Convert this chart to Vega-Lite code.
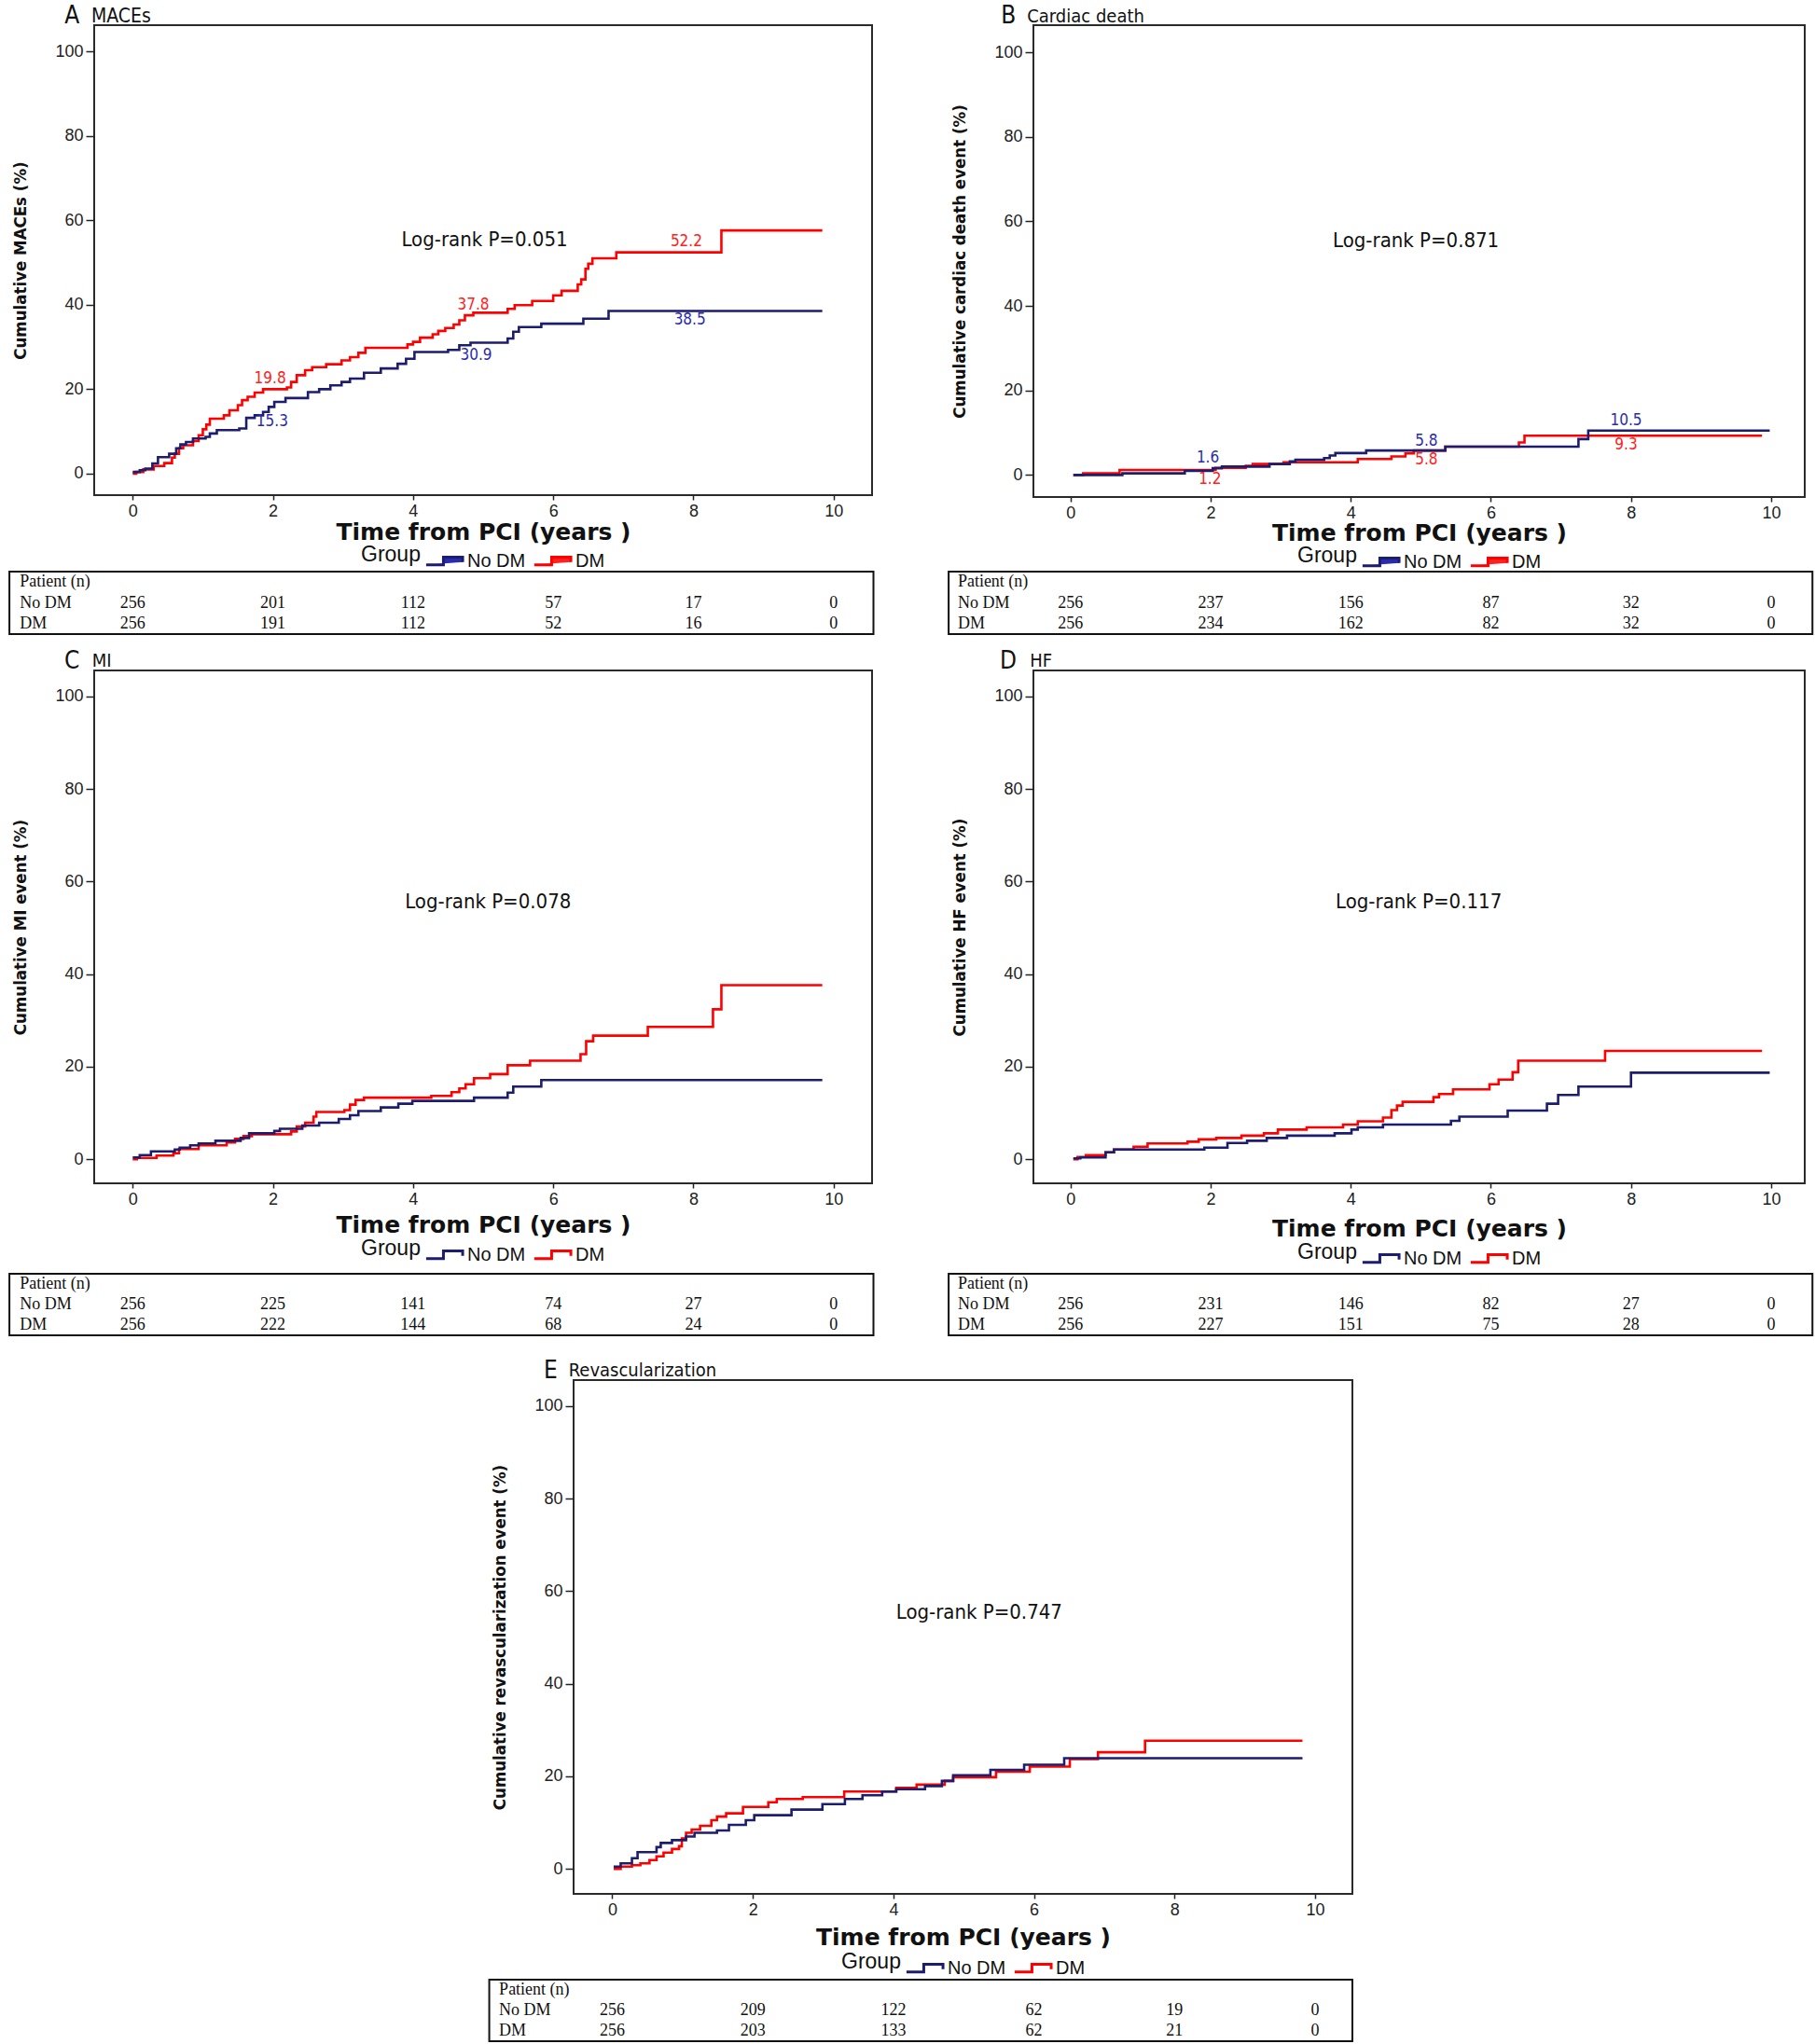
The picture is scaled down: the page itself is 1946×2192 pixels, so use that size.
{
 "$schema": "https://vega.github.io/schema/vega-lite/v6.json",
 "background": "white",
 "padding": {"left": 9, "top": 2, "right": 0, "bottom": 0},
 "datasets": {
  "rows": [{"row": "Patient (n)"}, {"row": "No DM"}, {"row": "DM"}],
  "kmA": [
   {"t":0,"p":0,"g":"DM"},{"t":0.05,"p":0.4,"g":"DM"},{"t":0.15,"p":1.0,"g":"DM"},{"t":0.3,"p":1.8,"g":"DM"},{"t":0.45,"p":2.5,"g":"DM"},{"t":0.56,"p":3.8,"g":"DM"},{"t":0.6,"p":4.7,"g":"DM"},{"t":0.66,"p":6.0,"g":"DM"},{"t":0.72,"p":6.7,"g":"DM"},{"t":0.86,"p":7.7,"g":"DM"},{"t":0.94,"p":9.1,"g":"DM"},{"t":1.0,"p":10.5,"g":"DM"},{"t":1.05,"p":11.6,"g":"DM"},{"t":1.1,"p":13.0,"g":"DM"},{"t":1.3,"p":13.8,"g":"DM"},{"t":1.38,"p":15.0,"g":"DM"},{"t":1.5,"p":16.2,"g":"DM"},{"t":1.56,"p":17.4,"g":"DM"},{"t":1.64,"p":18.2,"g":"DM"},{"t":1.74,"p":19.2,"g":"DM"},{"t":1.86,"p":20.0,"g":"DM"},{"t":2.2,"p":20.4,"g":"DM"},{"t":2.26,"p":21.7,"g":"DM"},{"t":2.34,"p":23.3,"g":"DM"},{"t":2.46,"p":24.5,"g":"DM"},{"t":2.56,"p":25.2,"g":"DM"},{"t":2.76,"p":25.9,"g":"DM"},{"t":2.98,"p":26.8,"g":"DM"},{"t":3.1,"p":27.6,"g":"DM"},{"t":3.22,"p":28.6,"g":"DM"},{"t":3.32,"p":29.8,"g":"DM"},{"t":3.92,"p":30.6,"g":"DM"},{"t":4.0,"p":31.2,"g":"DM"},{"t":4.1,"p":32.2,"g":"DM"},{"t":4.28,"p":33.0,"g":"DM"},{"t":4.36,"p":33.8,"g":"DM"},{"t":4.46,"p":34.5,"g":"DM"},{"t":4.58,"p":35.3,"g":"DM"},{"t":4.66,"p":36.3,"g":"DM"},{"t":4.74,"p":37.5,"g":"DM"},{"t":4.86,"p":38.1,"g":"DM"},{"t":5.35,"p":39.0,"g":"DM"},{"t":5.45,"p":39.9,"g":"DM"},{"t":5.7,"p":40.9,"g":"DM"},{"t":6.0,"p":42.2,"g":"DM"},{"t":6.12,"p":43.3,"g":"DM"},{"t":6.35,"p":44.8,"g":"DM"},{"t":6.4,"p":46.0,"g":"DM"},{"t":6.46,"p":48.5,"g":"DM"},{"t":6.5,"p":49.7,"g":"DM"},{"t":6.56,"p":51.0,"g":"DM"},{"t":6.9,"p":52.4,"g":"DM"},{"t":8.4,"p":57.6,"g":"DM"},{"t":9.84,"p":57.6,"g":"DM"},
   {"t":0,"p":0.4,"g":"No DM"},{"t":0.1,"p":0.8,"g":"No DM"},{"t":0.18,"p":1.2,"g":"No DM"},{"t":0.28,"p":2.4,"g":"No DM"},{"t":0.36,"p":3.9,"g":"No DM"},{"t":0.52,"p":4.7,"g":"No DM"},{"t":0.62,"p":6.0,"g":"No DM"},{"t":0.68,"p":6.9,"g":"No DM"},{"t":0.76,"p":7.5,"g":"No DM"},{"t":0.86,"p":8.3,"g":"No DM"},{"t":1.04,"p":8.7,"g":"No DM"},{"t":1.1,"p":9.5,"g":"No DM"},{"t":1.2,"p":10.3,"g":"No DM"},{"t":1.52,"p":10.7,"g":"No DM"},{"t":1.62,"p":13.2,"g":"No DM"},{"t":1.74,"p":13.8,"g":"No DM"},{"t":1.86,"p":14.6,"g":"No DM"},{"t":1.94,"p":15.8,"g":"No DM"},{"t":2.02,"p":17.0,"g":"No DM"},{"t":2.18,"p":17.9,"g":"No DM"},{"t":2.5,"p":19.3,"g":"No DM"},{"t":2.66,"p":20.0,"g":"No DM"},{"t":2.82,"p":20.9,"g":"No DM"},{"t":2.98,"p":21.7,"g":"No DM"},{"t":3.1,"p":22.5,"g":"No DM"},{"t":3.3,"p":23.9,"g":"No DM"},{"t":3.54,"p":24.9,"g":"No DM"},{"t":3.78,"p":26.0,"g":"No DM"},{"t":3.9,"p":27.2,"g":"No DM"},{"t":4.02,"p":28.8,"g":"No DM"},{"t":4.5,"p":29.3,"g":"No DM"},{"t":4.66,"p":30.4,"g":"No DM"},{"t":4.82,"p":31.0,"g":"No DM"},{"t":5.35,"p":32.0,"g":"No DM"},{"t":5.43,"p":33.6,"g":"No DM"},{"t":5.51,"p":34.7,"g":"No DM"},{"t":5.83,"p":35.5,"g":"No DM"},{"t":6.43,"p":36.7,"g":"No DM"},{"t":6.79,"p":38.5,"g":"No DM"},{"t":9.84,"p":38.5,"g":"No DM"}
  ],
  "kmB": [
   {"t":0.04,"p":0,"g":"DM"},{"t":0.18,"p":0.4,"g":"DM"},{"t":0.7,"p":1.2,"g":"DM"},{"t":2.07,"p":1.7,"g":"DM"},{"t":2.5,"p":2.2,"g":"DM"},{"t":2.6,"p":2.6,"g":"DM"},{"t":3.04,"p":3.0,"g":"DM"},{"t":4.1,"p":3.8,"g":"DM"},{"t":4.58,"p":4.4,"g":"DM"},{"t":4.78,"p":5.1,"g":"DM"},{"t":4.9,"p":5.8,"g":"DM"},{"t":5.35,"p":6.7,"g":"DM"},{"t":6.4,"p":7.7,"g":"DM"},{"t":6.48,"p":9.3,"g":"DM"},{"t":9.87,"p":9.3,"g":"DM"},
   {"t":0.04,"p":0,"g":"No DM"},{"t":0.74,"p":0.4,"g":"No DM"},{"t":1.63,"p":1.0,"g":"No DM"},{"t":2.03,"p":1.6,"g":"No DM"},{"t":2.16,"p":2.0,"g":"No DM"},{"t":2.84,"p":2.6,"g":"No DM"},{"t":3.13,"p":3.2,"g":"No DM"},{"t":3.21,"p":3.6,"g":"No DM"},{"t":3.62,"p":4.0,"g":"No DM"},{"t":3.7,"p":4.6,"g":"No DM"},{"t":3.78,"p":5.2,"g":"No DM"},{"t":4.22,"p":5.8,"g":"No DM"},{"t":5.35,"p":6.7,"g":"No DM"},{"t":7.25,"p":8.5,"g":"No DM"},{"t":7.39,"p":10.5,"g":"No DM"},{"t":9.98,"p":10.5,"g":"No DM"}
  ],
  "kmC": [
   {"t":0,"p":0,"g":"DM"},{"t":0.06,"p":0.3,"g":"DM"},{"t":0.34,"p":0.8,"g":"DM"},{"t":0.58,"p":1.3,"g":"DM"},{"t":0.66,"p":2.2,"g":"DM"},{"t":0.94,"p":3.0,"g":"DM"},{"t":1.34,"p":3.6,"g":"DM"},{"t":1.46,"p":4.4,"g":"DM"},{"t":1.58,"p":5.0,"g":"DM"},{"t":1.7,"p":5.4,"g":"DM"},{"t":2.26,"p":6.0,"g":"DM"},{"t":2.34,"p":7.1,"g":"DM"},{"t":2.46,"p":7.9,"g":"DM"},{"t":2.58,"p":9.2,"g":"DM"},{"t":2.62,"p":10.2,"g":"DM"},{"t":3.02,"p":10.6,"g":"DM"},{"t":3.1,"p":11.8,"g":"DM"},{"t":3.18,"p":12.8,"g":"DM"},{"t":3.3,"p":13.3,"g":"DM"},{"t":4.26,"p":13.7,"g":"DM"},{"t":4.55,"p":14.5,"g":"DM"},{"t":4.66,"p":15.3,"g":"DM"},{"t":4.75,"p":16.2,"g":"DM"},{"t":4.87,"p":17.5,"g":"DM"},{"t":5.1,"p":18.4,"g":"DM"},{"t":5.35,"p":20.3,"g":"DM"},{"t":5.67,"p":21.3,"g":"DM"},{"t":6.39,"p":22.7,"g":"DM"},{"t":6.47,"p":25.5,"g":"DM"},{"t":6.57,"p":26.7,"g":"DM"},{"t":7.35,"p":28.6,"g":"DM"},{"t":8.28,"p":32.4,"g":"DM"},{"t":8.4,"p":37.6,"g":"DM"},{"t":9.84,"p":37.6,"g":"DM"},
   {"t":0,"p":0.4,"g":"No DM"},{"t":0.1,"p":0.9,"g":"No DM"},{"t":0.26,"p":1.7,"g":"No DM"},{"t":0.6,"p":2.1,"g":"No DM"},{"t":0.67,"p":2.5,"g":"No DM"},{"t":0.82,"p":3.0,"g":"No DM"},{"t":0.94,"p":3.4,"g":"No DM"},{"t":1.18,"p":4.0,"g":"No DM"},{"t":1.54,"p":4.6,"g":"No DM"},{"t":1.66,"p":5.6,"g":"No DM"},{"t":2.02,"p":6.1,"g":"No DM"},{"t":2.1,"p":6.6,"g":"No DM"},{"t":2.42,"p":7.3,"g":"No DM"},{"t":2.66,"p":7.9,"g":"No DM"},{"t":2.94,"p":8.7,"g":"No DM"},{"t":3.1,"p":9.5,"g":"No DM"},{"t":3.22,"p":10.4,"g":"No DM"},{"t":3.54,"p":11.2,"g":"No DM"},{"t":3.79,"p":12.0,"g":"No DM"},{"t":3.99,"p":12.6,"g":"No DM"},{"t":4.87,"p":13.3,"g":"No DM"},{"t":5.35,"p":14.4,"g":"No DM"},{"t":5.43,"p":15.7,"g":"No DM"},{"t":5.83,"p":17.1,"g":"No DM"},{"t":9.84,"p":17.1,"g":"No DM"}
  ],
  "kmD": [
   {"t":0.04,"p":0,"g":"DM"},{"t":0.1,"p":0.5,"g":"DM"},{"t":0.22,"p":0.9,"g":"DM"},{"t":0.5,"p":1.5,"g":"DM"},{"t":0.62,"p":2.1,"g":"DM"},{"t":0.9,"p":2.7,"g":"DM"},{"t":1.1,"p":3.4,"g":"DM"},{"t":1.67,"p":3.8,"g":"DM"},{"t":1.83,"p":4.3,"g":"DM"},{"t":2.08,"p":4.6,"g":"DM"},{"t":2.44,"p":5.1,"g":"DM"},{"t":2.76,"p":5.6,"g":"DM"},{"t":2.96,"p":6.4,"g":"DM"},{"t":3.37,"p":6.9,"g":"DM"},{"t":3.89,"p":7.5,"g":"DM"},{"t":4.1,"p":8.2,"g":"DM"},{"t":4.46,"p":9.0,"g":"DM"},{"t":4.58,"p":10.6,"g":"DM"},{"t":4.66,"p":11.6,"g":"DM"},{"t":4.74,"p":12.4,"g":"DM"},{"t":5.18,"p":13.4,"g":"DM"},{"t":5.26,"p":14.1,"g":"DM"},{"t":5.46,"p":15.1,"g":"DM"},{"t":5.98,"p":16.2,"g":"DM"},{"t":6.11,"p":17.2,"g":"DM"},{"t":6.31,"p":18.8,"g":"DM"},{"t":6.39,"p":21.3,"g":"DM"},{"t":7.63,"p":23.4,"g":"DM"},{"t":9.87,"p":23.4,"g":"DM"},
   {"t":0.04,"p":0.2,"g":"No DM"},{"t":0.14,"p":0.4,"g":"No DM"},{"t":0.5,"p":1.5,"g":"No DM"},{"t":0.62,"p":2.1,"g":"No DM"},{"t":1.91,"p":2.5,"g":"No DM"},{"t":2.24,"p":3.5,"g":"No DM"},{"t":2.52,"p":4.0,"g":"No DM"},{"t":2.8,"p":4.6,"g":"No DM"},{"t":3.09,"p":5.1,"g":"No DM"},{"t":3.77,"p":5.6,"g":"No DM"},{"t":4.01,"p":6.4,"g":"No DM"},{"t":4.1,"p":6.9,"g":"No DM"},{"t":4.46,"p":7.5,"g":"No DM"},{"t":5.43,"p":8.3,"g":"No DM"},{"t":5.55,"p":9.2,"g":"No DM"},{"t":6.24,"p":10.5,"g":"No DM"},{"t":6.8,"p":12.0,"g":"No DM"},{"t":6.96,"p":13.9,"g":"No DM"},{"t":7.25,"p":15.7,"g":"No DM"},{"t":8.0,"p":18.7,"g":"No DM"},{"t":9.98,"p":18.7,"g":"No DM"}
  ],
  "kmE": [
   {"t":0.02,"p":0,"g":"DM"},{"t":0.12,"p":0.5,"g":"DM"},{"t":0.28,"p":0.8,"g":"DM"},{"t":0.4,"p":1.2,"g":"DM"},{"t":0.53,"p":1.9,"g":"DM"},{"t":0.63,"p":2.7,"g":"DM"},{"t":0.73,"p":3.5,"g":"DM"},{"t":0.85,"p":4.3,"g":"DM"},{"t":0.95,"p":4.9,"g":"DM"},{"t":0.99,"p":6.6,"g":"DM"},{"t":1.05,"p":7.8,"g":"DM"},{"t":1.13,"p":8.5,"g":"DM"},{"t":1.25,"p":9.3,"g":"DM"},{"t":1.41,"p":10.5,"g":"DM"},{"t":1.49,"p":11.3,"g":"DM"},{"t":1.62,"p":12.0,"g":"DM"},{"t":1.86,"p":13.4,"g":"DM"},{"t":2.22,"p":14.4,"g":"DM"},{"t":2.34,"p":15.1,"g":"DM"},{"t":2.71,"p":15.5,"g":"DM"},{"t":3.3,"p":16.7,"g":"DM"},{"t":4.04,"p":17.5,"g":"DM"},{"t":4.33,"p":18.2,"g":"DM"},{"t":4.73,"p":19.0,"g":"DM"},{"t":4.85,"p":19.8,"g":"DM"},{"t":5.46,"p":21.0,"g":"DM"},{"t":5.94,"p":22.1,"g":"DM"},{"t":6.51,"p":23.7,"g":"DM"},{"t":6.91,"p":25.2,"g":"DM"},{"t":7.58,"p":27.7,"g":"DM"},{"t":9.82,"p":27.7,"g":"DM"},
   {"t":0.02,"p":0.5,"g":"No DM"},{"t":0.12,"p":1.2,"g":"No DM"},{"t":0.28,"p":2.3,"g":"No DM"},{"t":0.36,"p":3.6,"g":"No DM"},{"t":0.63,"p":4.7,"g":"No DM"},{"t":0.69,"p":5.6,"g":"No DM"},{"t":0.85,"p":6.2,"g":"No DM"},{"t":1.05,"p":7.0,"g":"No DM"},{"t":1.17,"p":7.8,"g":"No DM"},{"t":1.49,"p":8.3,"g":"No DM"},{"t":1.66,"p":9.5,"g":"No DM"},{"t":1.9,"p":10.5,"g":"No DM"},{"t":2.02,"p":11.6,"g":"No DM"},{"t":2.55,"p":12.8,"g":"No DM"},{"t":2.99,"p":14.0,"g":"No DM"},{"t":3.31,"p":15.1,"g":"No DM"},{"t":3.56,"p":15.9,"g":"No DM"},{"t":3.84,"p":16.7,"g":"No DM"},{"t":4.04,"p":17.2,"g":"No DM"},{"t":4.45,"p":17.9,"g":"No DM"},{"t":4.69,"p":19.0,"g":"No DM"},{"t":4.85,"p":20.2,"g":"No DM"},{"t":5.38,"p":21.4,"g":"No DM"},{"t":5.86,"p":22.5,"g":"No DM"},{"t":6.43,"p":23.9,"g":"No DM"},{"t":9.82,"p":23.9,"g":"No DM"}
  ],
  "labA": [
   {"t":1.96,"p":22.5,"g":"DM","label":"19.8"},{"t":4.86,"p":40.0,"g":"DM","label":"37.8"},{"t":7.9,"p":54.9,"g":"DM","label":"52.2"},
   {"t":1.99,"p":12.4,"g":"No DM","label":"15.3"},{"t":4.9,"p":28.0,"g":"No DM","label":"30.9"},{"t":7.95,"p":36.5,"g":"No DM","label":"38.5"}
  ],
  "labB": [
   {"t":1.96,"p":4.1,"g":"No DM","label":"1.6"},{"t":1.99,"p":-0.95,"g":"DM","label":"1.2"},{"t":5.08,"p":8.0,"g":"No DM","label":"5.8"},
   {"t":5.08,"p":3.6,"g":"DM","label":"5.8"},{"t":7.93,"p":12.8,"g":"No DM","label":"10.5"},{"t":7.93,"p":7.2,"g":"DM","label":"9.3"}
  ],
  "tabA": [
   {"row":"No DM","t":0,"n":256},{"row":"No DM","t":2,"n":201},{"row":"No DM","t":4,"n":112},{"row":"No DM","t":6,"n":57},{"row":"No DM","t":8,"n":17},{"row":"No DM","t":10,"n":0},
   {"row":"DM","t":0,"n":256},{"row":"DM","t":2,"n":191},{"row":"DM","t":4,"n":112},{"row":"DM","t":6,"n":52},{"row":"DM","t":8,"n":16},{"row":"DM","t":10,"n":0}
  ],
  "tabB": [
   {"row":"No DM","t":0,"n":256},{"row":"No DM","t":2,"n":237},{"row":"No DM","t":4,"n":156},{"row":"No DM","t":6,"n":87},{"row":"No DM","t":8,"n":32},{"row":"No DM","t":10,"n":0},
   {"row":"DM","t":0,"n":256},{"row":"DM","t":2,"n":234},{"row":"DM","t":4,"n":162},{"row":"DM","t":6,"n":82},{"row":"DM","t":8,"n":32},{"row":"DM","t":10,"n":0}
  ],
  "tabC": [
   {"row":"No DM","t":0,"n":256},{"row":"No DM","t":2,"n":225},{"row":"No DM","t":4,"n":141},{"row":"No DM","t":6,"n":74},{"row":"No DM","t":8,"n":27},{"row":"No DM","t":10,"n":0},
   {"row":"DM","t":0,"n":256},{"row":"DM","t":2,"n":222},{"row":"DM","t":4,"n":144},{"row":"DM","t":6,"n":68},{"row":"DM","t":8,"n":24},{"row":"DM","t":10,"n":0}
  ],
  "tabD": [
   {"row":"No DM","t":0,"n":256},{"row":"No DM","t":2,"n":231},{"row":"No DM","t":4,"n":146},{"row":"No DM","t":6,"n":82},{"row":"No DM","t":8,"n":27},{"row":"No DM","t":10,"n":0},
   {"row":"DM","t":0,"n":256},{"row":"DM","t":2,"n":227},{"row":"DM","t":4,"n":151},{"row":"DM","t":6,"n":75},{"row":"DM","t":8,"n":28},{"row":"DM","t":10,"n":0}
  ],
  "tabE": [
   {"row":"No DM","t":0,"n":256},{"row":"No DM","t":2,"n":209},{"row":"No DM","t":4,"n":122},{"row":"No DM","t":6,"n":62},{"row":"No DM","t":8,"n":19},{"row":"No DM","t":10,"n":0},
   {"row":"DM","t":0,"n":256},{"row":"DM","t":2,"n":203},{"row":"DM","t":4,"n":133},{"row":"DM","t":6,"n":62},{"row":"DM","t":8,"n":21},{"row":"DM","t":10,"n":0}
  ]
 },
 "spacing": 23,
 "resolve": {"scale": {"color": "independent", "fill": "independent"}, "legend": {"color": "independent", "fill": "independent"}},
 "vconcat": [
  {
   "spacing": 14,
   "resolve": {"scale": {"color": "independent", "fill": "independent"}, "legend": {"color": "independent", "fill": "independent"}},
   "vconcat": [
    {
     "spacing": 78,
     "resolve": {"scale": {"color": "independent", "fill": "independent"}, "legend": {"color": "independent", "fill": "independent"}},
     "hconcat": [
      {
       "spacing": 82,
       "bounds": "flush",
       "resolve": {"scale": {"color": "independent", "fill": "independent"}, "legend": {"color": "independent", "fill": "independent"}},
       "vconcat": [
        {
         "width": 834, "height": 504,
         "layer": [
          {"data": {"name": "kmA"}, "mark": {"type": "line", "interpolate": "step-after", "strokeWidth": 2.6},
           "encoding": {
            "x": {"field": "t", "type": "quantitative", "scale": {"domain": [-0.55, 10.55], "nice": false, "zero": false}, "axis": {"values": [0,2,4,6,8,10], "format": "d", "title": "Time from PCI (years )", "titlePadding": 1.5}},
            "y": {"field": "p", "type": "quantitative", "scale": {"domain": [-5.1, 106.2], "nice": false, "zero": false}, "axis": {"values": [0,20,40,60,80,100], "format": "d", "title": "Cumulative MACEs (%)"}},
            "color": {"field": "g", "type": "nominal", "scale": {"domain": ["No DM", "DM"], "range": ["#1d1d6f", "#ff0000"]},
              "legend": {"title": "Group", "orient": "bottom", "direction": "horizontal", "titleOrient": "left", "symbolType": "M-1,0.2H-0.1V-0.2H0.9V0.05", "symbolSize": 1700, "symbolStrokeWidth": 3, "labelFont": "Liberation Sans", "labelFontSize": 20, "titleFont": "Liberation Sans", "titleFontSize": 23, "titleFontWeight": "normal", "titleColor": "#111", "labelColor": "#111", "offset": -5, "padding": 0, "columnPadding": 2, "labelOffset": 1, "titlePadding": 4}}
           }},
          {"data": {"name": "labA"}, "mark": {"type": "text", "fontSize": 17},
           "encoding": {"x": {"field": "t", "type": "quantitative"}, "y": {"field": "p", "type": "quantitative"}, "text": {"field": "label"},
            "fill": {"field": "g", "type": "nominal", "scale": {"domain": ["No DM", "DM"], "range": ["#2b2bb0", "#ff2020"]}, "legend": null}}},
          {"data": {"values": [{}]}, "mark": {"type": "text", "text": "Log-rank  P=0.051", "fontSize": 22}, "encoding": {"x": {"datum": 5.02}, "y": {"datum": 55.3}}},
          {"data": {"values": [{}]}, "mark": {"type": "text", "text": "A", "fontSize": 26, "align": "right", "baseline": "top"}, "encoding": {"x": {"datum": -0.76}, "y": {"datum": 111.28}}},
          {"data": {"values": [{}]}, "mark": {"type": "text", "text": "MACEs", "fontSize": 21, "align": "left", "baseline": "top"}, "encoding": {"x": {"datum": -0.59}, "y": {"datum": 110.51}}}
         ]
        },
        {
         "width": 834, "height": 67, "view": {"stroke": null},
         "layer": [
          {"data": {"values": [{}]}, "mark": {"type": "rect", "filled": false, "stroke": "#111", "strokeWidth": 2},
           "encoding": {"x": {"datum": -1.76, "type": "quantitative", "scale": {"domain": [-0.55, 10.55], "nice": false, "zero": false}, "axis": null}, "x2": {"datum": 10.57}}},
          {"data": {"name": "rows"}, "mark": {"type": "text", "align": "left", "font": "Liberation Serif", "fontSize": 18},
           "encoding": {"x": {"datum": -1.61, "axis": null}, "y": {"field": "row", "type": "nominal", "scale": {"domain": ["Patient (n)", "No DM", "DM"]}, "axis": null}, "text": {"field": "row"}}},
          {"data": {"name": "tabA"}, "mark": {"type": "text", "font": "Liberation Serif", "fontSize": 18},
           "encoding": {"x": {"field": "t", "type": "quantitative", "axis": null}, "y": {"field": "row", "type": "nominal", "axis": null}, "text": {"field": "n"}}}
         ]
        }
       ]
      },
      {
       "spacing": 80,
       "bounds": "flush",
       "resolve": {"scale": {"color": "independent", "fill": "independent"}, "legend": {"color": "independent", "fill": "independent"}},
       "vconcat": [
        {
         "width": 827, "height": 506,
         "layer": [
          {"data": {"name": "kmB"}, "mark": {"type": "line", "interpolate": "step-after", "strokeWidth": 2.6},
           "encoding": {
            "x": {"field": "t", "type": "quantitative", "scale": {"domain": [-0.53, 10.48], "nice": false, "zero": false}, "axis": {"values": [0,2,4,6,8,10], "format": "d", "title": "Time from PCI (years )", "titlePadding": 0}},
            "y": {"field": "p", "type": "quantitative", "scale": {"domain": [-5.2, 106.4], "nice": false, "zero": false}, "axis": {"values": [0,20,40,60,80,100], "format": "d", "title": "Cumulative  cardiac death event (%)"}},
            "color": {"field": "g", "type": "nominal", "scale": {"domain": ["No DM", "DM"], "range": ["#1d1d6f", "#ff0000"]},
              "legend": {"title": "Group", "orient": "bottom", "direction": "horizontal", "titleOrient": "left", "symbolType": "M-1,0.2H-0.1V-0.2H0.9V0.05", "symbolSize": 1700, "symbolStrokeWidth": 3, "labelFont": "Liberation Sans", "labelFontSize": 20, "titleFont": "Liberation Sans", "titleFontSize": 23, "titleFontWeight": "normal", "titleColor": "#111", "labelColor": "#111", "offset": -4, "padding": 0, "columnPadding": 2, "labelOffset": 1, "titlePadding": 4}}
           }},
          {"data": {"name": "labB"}, "mark": {"type": "text", "fontSize": 17},
           "encoding": {"x": {"field": "t", "type": "quantitative"}, "y": {"field": "p", "type": "quantitative"}, "text": {"field": "label"},
            "fill": {"field": "g", "type": "nominal", "scale": {"domain": ["No DM", "DM"], "range": ["#2b2bb0", "#ff2020"]}, "legend": null}}},
          {"data": {"values": [{}]}, "mark": {"type": "text", "text": "Log-rank  P=0.871", "fontSize": 22}, "encoding": {"x": {"datum": 4.93}, "y": {"datum": 55.5}}},
          {"data": {"values": [{}]}, "mark": {"type": "text", "text": "B", "fontSize": 26, "align": "right", "baseline": "top"}, "encoding": {"x": {"datum": -0.78}, "y": {"datum": 111.47}}},
          {"data": {"values": [{}]}, "mark": {"type": "text", "text": "Cardiac death", "fontSize": 20, "align": "left", "baseline": "top"}, "encoding": {"x": {"datum": -0.62}, "y": {"datum": 110.7}}}
         ]
        },
        {
         "width": 827, "height": 67, "view": {"stroke": null},
         "layer": [
          {"data": {"values": [{}]}, "mark": {"type": "rect", "filled": false, "stroke": "#111", "strokeWidth": 2},
           "encoding": {"x": {"datum": -1.74, "type": "quantitative", "scale": {"domain": [-0.53, 10.48], "nice": false, "zero": false}, "axis": null}, "x2": {"datum": 10.59}}},
          {"data": {"name": "rows"}, "mark": {"type": "text", "align": "left", "font": "Liberation Serif", "fontSize": 18},
           "encoding": {"x": {"datum": -1.61, "axis": null}, "y": {"field": "row", "type": "nominal", "scale": {"domain": ["Patient (n)", "No DM", "DM"]}, "axis": null}, "text": {"field": "row"}}},
          {"data": {"name": "tabB"}, "mark": {"type": "text", "font": "Liberation Serif", "fontSize": 18},
           "encoding": {"x": {"field": "t", "type": "quantitative", "axis": null}, "y": {"field": "row", "type": "nominal", "axis": null}, "text": {"field": "n"}}}
         ]
        }
       ]
      }
     ]
    },
    {
     "spacing": 78,
     "resolve": {"scale": {"color": "independent", "fill": "independent"}, "legend": {"color": "independent", "fill": "independent"}},
     "hconcat": [
      {
       "spacing": 97,
       "bounds": "flush",
       "resolve": {"scale": {"color": "independent", "fill": "independent"}, "legend": {"color": "independent", "fill": "independent"}},
       "vconcat": [
        {
         "width": 834, "height": 550,
         "layer": [
          {"data": {"name": "kmC"}, "mark": {"type": "line", "interpolate": "step-after", "strokeWidth": 2.6},
           "encoding": {
            "x": {"field": "t", "type": "quantitative", "scale": {"domain": [-0.55, 10.55], "nice": false, "zero": false}, "axis": {"values": [0,2,4,6,8,10], "format": "d", "title": "Time from PCI (years )", "titlePadding": 6.5}},
            "y": {"field": "p", "type": "quantitative", "scale": {"domain": [-5.2, 105.6], "nice": false, "zero": false}, "axis": {"values": [0,20,40,60,80,100], "format": "d", "title": "Cumulative MI event (%)"}},
            "color": {"field": "g", "type": "nominal", "scale": {"domain": ["No DM", "DM"], "range": ["#1d1d6f", "#ff0000"]},
              "legend": {"title": "Group", "orient": "bottom", "direction": "horizontal", "titleOrient": "left", "symbolType": "M-1,0.2H-0.1V-0.2H0.9V0.05", "symbolSize": 1700, "symbolStrokeWidth": 3, "labelFont": "Liberation Sans", "labelFontSize": 20, "titleFont": "Liberation Sans", "titleFontSize": 23, "titleFontWeight": "normal", "titleColor": "#111", "labelColor": "#111", "offset": -4, "padding": 0, "columnPadding": 2, "labelOffset": 1, "titlePadding": 4}}
           }},
          {"data": {"values": [{}]}, "mark": {"type": "text", "text": "Log-rank  P=0.078", "fontSize": 22}, "encoding": {"x": {"datum": 5.07}, "y": {"datum": 55.6}}},
          {"data": {"values": [{}]}, "mark": {"type": "text", "text": "C", "fontSize": 26, "align": "right", "baseline": "top"}, "encoding": {"x": {"datum": -0.76}, "y": {"datum": 110.23}}},
          {"data": {"values": [{}]}, "mark": {"type": "text", "text": "MI", "fontSize": 20, "align": "left", "baseline": "top"}, "encoding": {"x": {"datum": -0.58}, "y": {"datum": 109.53}}}
         ]
        },
        {
         "width": 834, "height": 66, "view": {"stroke": null},
         "layer": [
          {"data": {"values": [{}]}, "mark": {"type": "rect", "filled": false, "stroke": "#111", "strokeWidth": 2},
           "encoding": {"x": {"datum": -1.76, "type": "quantitative", "scale": {"domain": [-0.55, 10.55], "nice": false, "zero": false}, "axis": null}, "x2": {"datum": 10.57}}},
          {"data": {"name": "rows"}, "mark": {"type": "text", "align": "left", "font": "Liberation Serif", "fontSize": 18},
           "encoding": {"x": {"datum": -1.61, "axis": null}, "y": {"field": "row", "type": "nominal", "scale": {"domain": ["Patient (n)", "No DM", "DM"]}, "axis": null}, "text": {"field": "row"}}},
          {"data": {"name": "tabC"}, "mark": {"type": "text", "font": "Liberation Serif", "fontSize": 18},
           "encoding": {"x": {"field": "t", "type": "quantitative", "axis": null}, "y": {"field": "row", "type": "nominal", "axis": null}, "text": {"field": "n"}}}
         ]
        }
       ]
      },
      {
       "spacing": 97,
       "bounds": "flush",
       "resolve": {"scale": {"color": "independent", "fill": "independent"}, "legend": {"color": "independent", "fill": "independent"}},
       "vconcat": [
        {
         "width": 827, "height": 550,
         "layer": [
          {"data": {"name": "kmD"}, "mark": {"type": "line", "interpolate": "step-after", "strokeWidth": 2.6},
           "encoding": {
            "x": {"field": "t", "type": "quantitative", "scale": {"domain": [-0.53, 10.48], "nice": false, "zero": false}, "axis": {"values": [0,2,4,6,8,10], "format": "d", "title": "Time from PCI (years )", "titlePadding": 10.5}},
            "y": {"field": "p", "type": "quantitative", "scale": {"domain": [-5.2, 105.6], "nice": false, "zero": false}, "axis": {"values": [0,20,40,60,80,100], "format": "d", "title": "Cumulative HF event (%)"}},
            "color": {"field": "g", "type": "nominal", "scale": {"domain": ["No DM", "DM"], "range": ["#1d1d6f", "#ff0000"]},
              "legend": {"title": "Group", "orient": "bottom", "direction": "horizontal", "titleOrient": "left", "symbolType": "M-1,0.2H-0.1V-0.2H0.9V0.05", "symbolSize": 1700, "symbolStrokeWidth": 3, "labelFont": "Liberation Sans", "labelFontSize": 20, "titleFont": "Liberation Sans", "titleFontSize": 23, "titleFontWeight": "normal", "titleColor": "#111", "labelColor": "#111", "offset": -4, "padding": 0, "columnPadding": 2, "labelOffset": 1, "titlePadding": 4}}
           }},
          {"data": {"values": [{}]}, "mark": {"type": "text", "text": "Log-rank  P=0.117", "fontSize": 22}, "encoding": {"x": {"datum": 4.97}, "y": {"datum": 55.6}}},
          {"data": {"values": [{}]}, "mark": {"type": "text", "text": "D", "fontSize": 26, "align": "right", "baseline": "top"}, "encoding": {"x": {"datum": -0.77}, "y": {"datum": 110.23}}},
          {"data": {"values": [{}]}, "mark": {"type": "text", "text": "HF", "fontSize": 20, "align": "left", "baseline": "top"}, "encoding": {"x": {"datum": -0.58}, "y": {"datum": 109.53}}}
         ]
        },
        {
         "width": 827, "height": 66, "view": {"stroke": null},
         "layer": [
          {"data": {"values": [{}]}, "mark": {"type": "rect", "filled": false, "stroke": "#111", "strokeWidth": 2},
           "encoding": {"x": {"datum": -1.74, "type": "quantitative", "scale": {"domain": [-0.53, 10.48], "nice": false, "zero": false}, "axis": null}, "x2": {"datum": 10.59}}},
          {"data": {"name": "rows"}, "mark": {"type": "text", "align": "left", "font": "Liberation Serif", "fontSize": 18},
           "encoding": {"x": {"datum": -1.61, "axis": null}, "y": {"field": "row", "type": "nominal", "scale": {"domain": ["Patient (n)", "No DM", "DM"]}, "axis": null}, "text": {"field": "row"}}},
          {"data": {"name": "tabD"}, "mark": {"type": "text", "font": "Liberation Serif", "fontSize": 18},
           "encoding": {"x": {"field": "t", "type": "quantitative", "axis": null}, "y": {"field": "row", "type": "nominal", "axis": null}, "text": {"field": "n"}}}
         ]
        }
       ]
      }
     ]
    }
   ]
  },
  {
   "spacing": 20,
   "resolve": {"scale": {"color": "independent", "fill": "independent"}, "legend": {"color": "independent", "fill": "independent"}},
   "hconcat": [
    {"width": 402, "height": 10, "view": {"stroke": null}, "data": {"values": [{}]},
     "mark": {"type": "rect", "opacity": 0},
     "encoding": {"x": {"datum": 0, "type": "quantitative", "scale": {"domain": [0, 1]}, "axis": null}, "x2": {"datum": 1}}},
    {
     "spacing": 92,
     "bounds": "flush",
     "resolve": {"scale": {"color": "independent", "fill": "independent"}, "legend": {"color": "independent", "fill": "independent"}},
     "vconcat": [
      {
       "width": 835, "height": 551,
       "layer": [
        {"data": {"name": "kmE"}, "mark": {"type": "line", "interpolate": "step-after", "strokeWidth": 2.6},
         "encoding": {
          "x": {"field": "t", "type": "quantitative", "scale": {"domain": [-0.55, 10.53], "nice": false, "zero": false}, "axis": {"values": [0,2,4,6,8,10], "format": "d", "title": "Time from PCI (years )", "titlePadding": 8.5}},
          "y": {"field": "p", "type": "quantitative", "scale": {"domain": [-5.4, 105.6], "nice": false, "zero": false}, "axis": {"values": [0,20,40,60,80,100], "format": "d", "title": "Cumulative revascularization event (%)"}},
          "color": {"field": "g", "type": "nominal", "scale": {"domain": ["No DM", "DM"], "range": ["#1d1d6f", "#ff0000"]},
            "legend": {"title": "Group", "orient": "bottom", "direction": "horizontal", "titleOrient": "left", "symbolType": "M-1,0.2H-0.1V-0.2H0.9V0.05", "symbolSize": 1700, "symbolStrokeWidth": 3, "labelFont": "Liberation Sans", "labelFontSize": 20, "titleFont": "Liberation Sans", "titleFontSize": 23, "titleFontWeight": "normal", "titleColor": "#111", "labelColor": "#111", "offset": -3, "padding": 0, "columnPadding": 2, "labelOffset": 1, "titlePadding": 4}}
         }},
        {"data": {"values": [{}]}, "mark": {"type": "text", "text": "Log-rank  P=0.747", "fontSize": 22}, "encoding": {"x": {"datum": 5.22}, "y": {"datum": 55.5}}},
        {"data": {"values": [{}]}, "mark": {"type": "text", "text": "E", "fontSize": 26, "align": "right", "baseline": "top"}, "encoding": {"x": {"datum": -0.78}, "y": {"datum": 110.23}}},
        {"data": {"values": [{}]}, "mark": {"type": "text", "text": "Revascularization", "fontSize": 20, "align": "left", "baseline": "top"}, "encoding": {"x": {"datum": -0.62}, "y": {"datum": 109.53}}}
       ]
      },
      {
       "width": 835, "height": 66, "view": {"stroke": null},
       "layer": [
        {"data": {"values": [{}]}, "mark": {"type": "rect", "filled": false, "stroke": "#111", "strokeWidth": 2},
         "encoding": {"x": {"datum": -1.75, "type": "quantitative", "scale": {"domain": [-0.55, 10.53], "nice": false, "zero": false}, "axis": null}, "x2": {"datum": 10.53}}},
        {"data": {"name": "rows"}, "mark": {"type": "text", "align": "left", "font": "Liberation Serif", "fontSize": 18},
         "encoding": {"x": {"datum": -1.61, "axis": null}, "y": {"field": "row", "type": "nominal", "scale": {"domain": ["Patient (n)", "No DM", "DM"]}, "axis": null}, "text": {"field": "row"}}},
        {"data": {"name": "tabE"}, "mark": {"type": "text", "font": "Liberation Serif", "fontSize": 18},
         "encoding": {"x": {"field": "t", "type": "quantitative", "axis": null}, "y": {"field": "row", "type": "nominal", "axis": null}, "text": {"field": "n"}}}
       ]
      }
     ]
    }
   ]
  }
 ],
 "config": {
  "view": {"stroke": "#2a2a2a", "strokeWidth": 2},
  "axis": {"grid": false, "domain": false, "tickColor": "#222", "tickWidth": 1.5, "labelColor": "#222", "labelFont": "Liberation Sans", "labelFontSize": 18, "titleColor": "#111"},
  "axisX": {"tickSize": 5, "labelPadding": 3, "titleFont": "DejaVu Sans", "titleFontWeight": "bold", "titleFontSize": 25},
  "axisY": {"tickSize": 9, "labelPadding": 3, "titleFont": "DejaVu Sans Condensed", "titleFontWeight": "bold", "titleFontSize": 18.5, "titlePadding": 27},
  "text": {"font": "DejaVu Sans Condensed", "color": "#111"},
  "legend": {"layout": {"bottom": {"anchor": "middle"}}}
 }
}
